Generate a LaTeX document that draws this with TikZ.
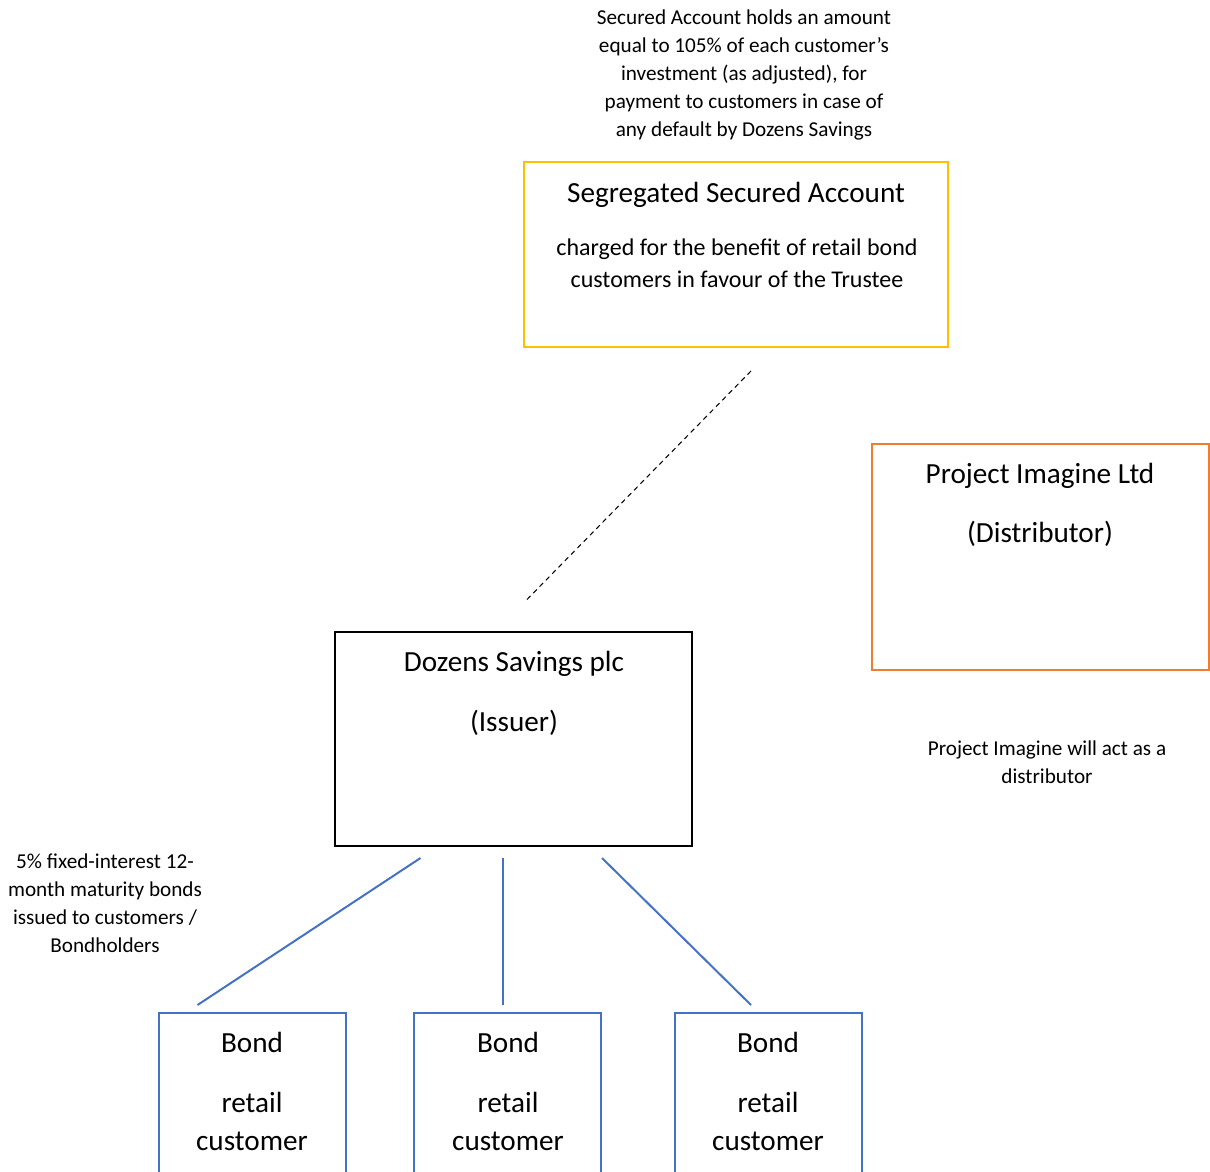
\documentclass[tikz,border=0pt]{standalone}
\usepackage{fontspec}
\setmainfont{Carlito}
\usepackage{xcolor}
\usetikzlibrary{positioning}
\definecolor{Gold}{RGB}{255,192,0}
\definecolor{Tangerine}{RGB}{237,125,49}
\definecolor{SteelBlue}{RGB}{68,114,196}
\tikzset{
  frame/.style={draw=#1,line width=1pt,inner sep=0pt,anchor=north west},
  heading/.style={font=\fontsize{14.6}{17}\selectfont,anchor=base,inner sep=0pt},
  body/.style={font=\fontsize{12}{16}\selectfont,align=center,anchor=north,inner sep=0pt},
  note/.style={font=\fontsize{10.6}{14}\selectfont,align=center,anchor=north,inner sep=0pt},
  link/.style={draw=SteelBlue,line width=1pt},
  charge/.style={draw=black,line width=0.5pt,dash pattern=on 2.5pt off 2pt}
}
\begin{document}
\begin{tikzpicture}[x=0.5pt,y=-0.5pt]
  \clip (0,0) rectangle (1210,1172);
  % boxes
  \node[frame=Gold,minimum width=212pt,minimum height=92.5pt] (secured) at (523,161) {};
  \node[frame=Tangerine,minimum width=168.5pt,minimum height=113pt] (distributor) at (871,443) {};
  \node[frame=black,minimum width=178.5pt,minimum height=107pt] (issuer) at (334,631) {};
  \node[frame=SteelBlue,minimum width=93.5pt,minimum height=95pt] (bondA) at (158,1012) {};
  \node[frame=SteelBlue,minimum width=93.5pt,minimum height=95pt] (bondB) at (413,1012) {};
  \node[frame=SteelBlue,minimum width=93.5pt,minimum height=95pt] (bondC) at (674,1012) {};
  % texts in the boxes
  \node[heading] (securedtitle) at (736,202) {Segregated Secured Account};
  \node[body] (securedtext) at (737,238) {charged for the benefit of retail bond\\customers in favour of the Trustee};
  \node[heading] (distributortitle) at (1040,483) {Project Imagine Ltd};
  \node[heading] (distributorrole) at (1040,542) {(Distributor)};
  \node[heading] (issuertitle) at (514,671) {Dozens Savings plc};
  \node[heading] (issuerrole) at (514,731) {(Issuer)};
  \foreach \b/\x in {bondA/252,bondB/508,bondC/768}{
    \node[heading] (\b title) at (\x,1052) {Bond};
    \node[heading,align=center,anchor=north,font=\fontsize{14.6}{19}\selectfont] (\b text) at (\x,1092) {retail\\customer};
  }
  % notes
  \node[note] (securednote) at (744,9) {Secured Account holds an amount\\equal to 105\% of each customer’s\\investment (as adjusted), for\\payment to customers in case of\\any default by Dozens Savings};
  \node[note] (bondnote) at (105,853) {5\% fixed-interest 12-\\month maturity bonds\\issued to customers /\\Bondholders};
  \node[note] (distributornote) at (1047,740) {Project Imagine will act as a\\distributor};
  % connectors
  \draw[charge] ([xshift=7.5pt,yshift=-11.5pt]secured.south) -- ([xshift=6pt,yshift=15pt]issuer.north);
  \draw[link] ([xshift=-46.5pt,yshift=-5.5pt]issuer.south) -- ([xshift=-27.5pt,yshift=3.5pt]bondA.north);
  \draw[link] ([xshift=-5.25pt,yshift=-5.5pt]issuer.south) -- ([xshift=-2.25pt,yshift=3.5pt]bondB.north);
  \draw[link] ([xshift=44.25pt,yshift=-5.5pt]issuer.south) -- ([xshift=-8.75pt,yshift=3.5pt]bondC.north);
\end{tikzpicture}
\end{document}
